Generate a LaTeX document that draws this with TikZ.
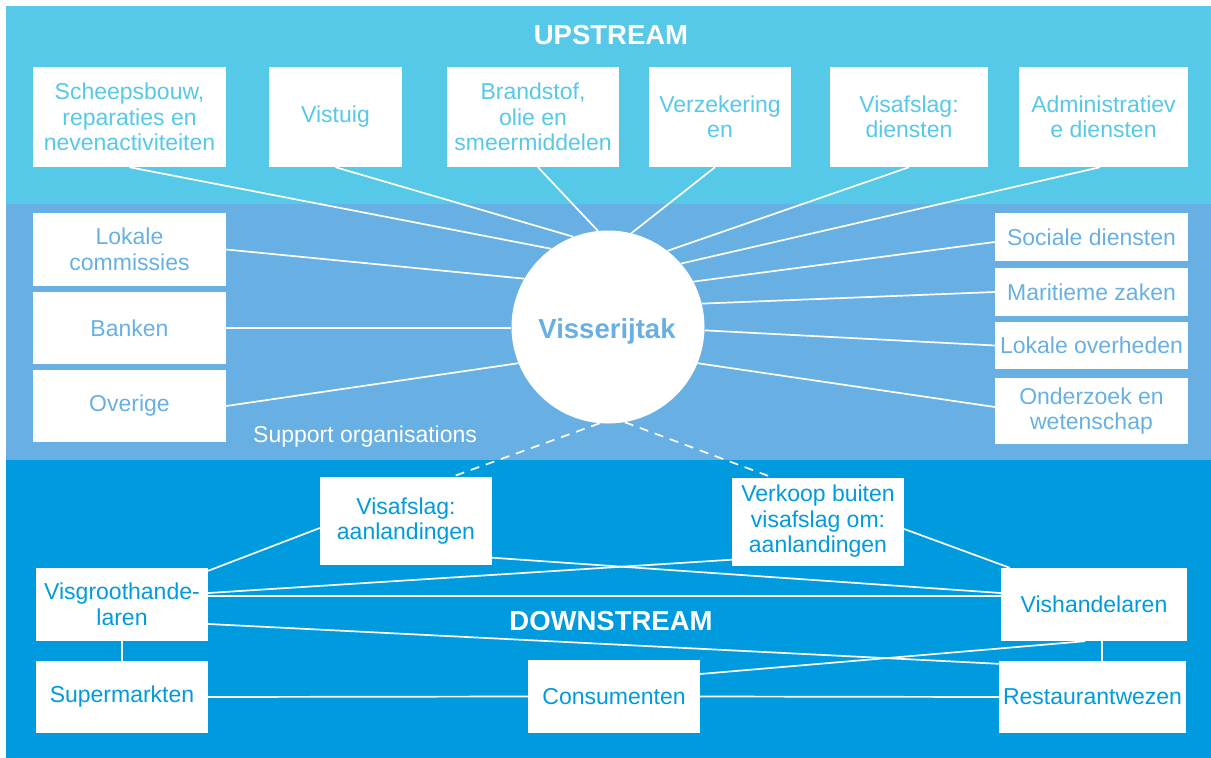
\documentclass[tikz,border=0pt]{standalone}
\usepackage{fontspec}
\setmainfont{Liberation Sans}
\definecolor{upc}{HTML}{56C8E8}
\definecolor{midc}{HTML}{68B0E4}
\definecolor{downc}{HTML}{009BDE}
\begin{document}
\begin{tikzpicture}[x=1pt,y=-1pt,
  box/.style={fill=white, inner sep=0pt, align=center, font=\fontsize{23}{25.5}\selectfont},
  ubox/.style={box, text=upc, minimum height=100pt},
  mbox/.style={box, text=midc},
  dbox/.style={box, text=downc},
  conn/.style={draw=white, line width=1.7pt},
  dconn/.style={conn, dash pattern=on 9pt off 7pt},
  title/.style={text=white, font=\fontsize{27.5}{30}\selectfont\bfseries, inner sep=0pt}
]
\useasboundingbox (0,0) rectangle (1211,758);
% bands
\fill[upc] (6,6) rectangle (1211,204);
\fill[midc] (6,204) rectangle (1211,460);
\fill[downc] (6,460) rectangle (1211,758);

% titles
\node[title] (up) at (611,35) {UPSTREAM};
\node[title] (down) at (611,621.5) {DOWNSTREAM};
\node[text=white, font=\fontsize{23}{25.5}\selectfont, inner sep=0pt, anchor=base west] (supp) at (253,442) {Support organisations};

% centre
\node[circle, fill=white, minimum size=193pt, inner sep=0pt] (circ) at (608,327) {};
\node[text=midc, font=\fontsize{27.5}{30}\selectfont\bfseries, inner sep=0pt, anchor=base] (vis) at (607,338) {Visserijtak};

% upstream boxes
\node[ubox, minimum width=193pt] (scheeps) at (129.5,117) {Scheepsbouw,\\reparaties en\\nevenactiviteiten};
\node[ubox, minimum width=133pt] (vistuig) at (335.5,117) {Vistuig};
\node[ubox, minimum width=172pt] (brand) at (533,117) {Brandstof,\\olie en\\smeermiddelen};
\node[ubox, minimum width=142pt] (verz) at (720,117) {Verzekering\\en};
\node[ubox, minimum width=158pt] (visd) at (909,117) {Visafslag:\\diensten};
\node[ubox, minimum width=169pt] (admin) at (1103.5,117) {Administratiev\\e diensten};

% support boxes
\node[mbox, minimum width=193pt, minimum height=73pt] (lokc) at (129.5,249.5) {Lokale\\commissies};
\node[mbox, minimum width=193pt, minimum height=72pt] (bank) at (129.5,328) {Banken};
\node[mbox, minimum width=193pt, minimum height=72pt] (over) at (129.5,406) {Overige};
\node[mbox, minimum width=193pt, minimum height=48pt] (soc) at (1091.5,237) {Sociale diensten};
\node[mbox, minimum width=193pt, minimum height=48pt] (mar) at (1091.5,292) {Maritieme zaken};
\node[mbox, minimum width=193pt, minimum height=47pt] (lok) at (1091.5,345.5) {Lokale overheden};
\node[mbox, minimum width=193pt, minimum height=66pt] (ond) at (1091.5,411) {Onderzoek en\\wetenschap};

% downstream boxes
\node[dbox, minimum width=172pt, minimum height=88pt] (visaa) at (406,521) {Visafslag:\\aanlandingen};
\node[dbox, minimum width=172pt, minimum height=88pt] (verk) at (818,521.5) {Verkoop buiten\\visafslag om:\\aanlandingen};
\node[dbox, minimum width=172pt, minimum height=73pt] (visgr) at (122,604.5) {Visgroothande-\\laren};
\node[dbox, minimum width=172pt, minimum height=72pt] (supm) at (122,697) {Supermarkten};
\node[dbox, minimum width=172pt, minimum height=73pt] (cons) at (614,696.5) {Consumenten};
\node[dbox, minimum width=186pt, minimum height=73pt] (vish) at (1094,604.5) {Vishandelaren};
\node[dbox, minimum width=187pt, minimum height=72pt] (rest) at (1092.5,697) {Restaurantwezen};

% upstream connectors
\draw[conn] (scheeps.south) -- (circ.126.8);
\draw[conn] (vistuig.south) -- (circ.111.1);
\draw[conn] ([xshift=5pt]brand.south) -- (circ.96.6);
\draw[conn] ([xshift=-5pt]verz.south) -- (circ.76.8);
\draw[conn] (visd.south) -- (circ.52.7);
\draw[conn] ([xshift=-3.5pt]admin.south) -- (circ.41.5);

% support connectors
\draw[conn] (lokc.east) -- (circ.150);
\draw[conn] (bank.east) -- (circ.west |- bank.east);
\draw[conn] (over.east) -- (circ.202.8);
\draw[conn] ([yshift=-5pt]soc.west) -- (circ.28.7);
\draw[conn] (mar.west) -- (circ.14);
\draw[conn] (lok.west) -- (circ.-2.1);
\draw[conn] ([yshift=4pt]ond.west) -- (circ.-22.9);

% dashed to landings
\draw[dconn] (circ.265.3) -- ([xshift=46pt]visaa.north);
\draw[dconn] (circ.280) -- ([xshift=-46pt]verk.north);

% downstream connectors
\draw[conn] ([yshift=-3pt]visgr.north east) -- ([yshift=-7pt]visaa.west);
\draw[conn] ([yshift=7.5pt]visaa.south east) -- ([yshift=11.5pt]vish.west);
\draw[conn] ([yshift=11.5pt]visgr.east) -- ([yshift=6pt]verk.south west);
\draw[conn] ([yshift=8.5pt]visgr.east) -- ([yshift=8.5pt]vish.west);
\draw[conn] ([yshift=-19.5pt]visgr.east) -- ([yshift=-3pt]rest.north west);
\draw[conn] ([yshift=22.5pt]cons.east) -- ([xshift=-9pt]vish.south);
\draw[conn] (supm.east) -- (cons.west);
\draw[conn] (cons.east) -- (rest.west);
\draw[conn] ([yshift=-7.5pt]verk.east) -- ([xshift=9pt]vish.north west);
\draw[conn] (visgr.south) -- (supm.north);
\draw[conn] ([xshift=8pt]vish.south) -- ([xshift=9.5pt]rest.north);
\end{tikzpicture}
\end{document}
